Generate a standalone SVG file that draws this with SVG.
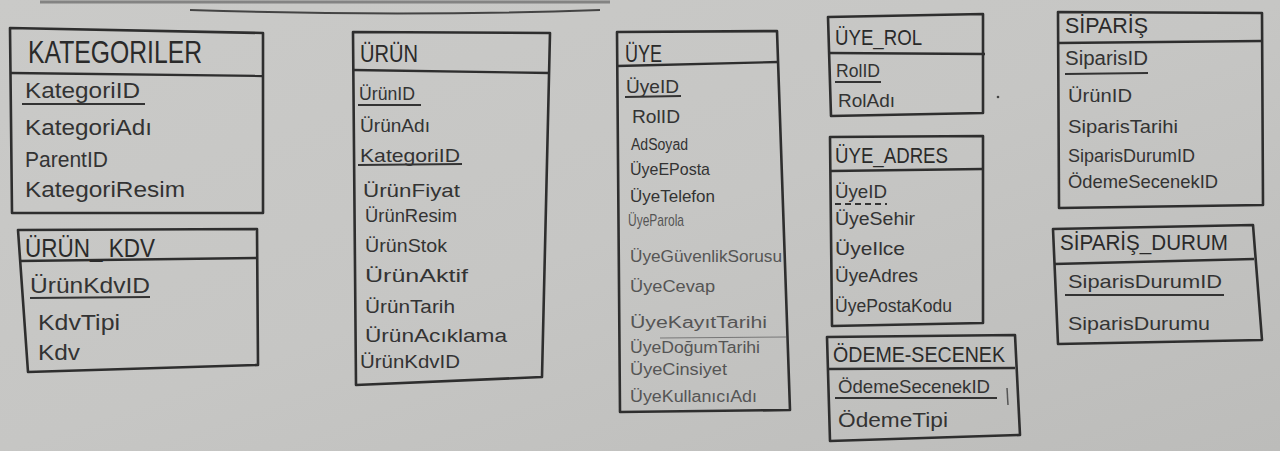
<svg xmlns="http://www.w3.org/2000/svg" width="1280" height="451" viewBox="0 0 1280 451">
<defs>
<linearGradient id="paper" x1="0" y1="0" x2="1" y2="1">
<stop offset="0" stop-color="#cacac8"/>
<stop offset="0.5" stop-color="#c6c6c4"/>
<stop offset="1" stop-color="#bcbcba"/>
</linearGradient>
<style>
.box{fill:none;stroke:#2e2e2e;stroke-width:2.6;stroke-linejoin:round}
.sep{fill:none;stroke:#2e2e2e;stroke-width:2.4}
.ul{fill:none;stroke:#333;stroke-width:2}
.t{font-family:"Liberation Sans",Arial,sans-serif;fill:#2a2a2a}
.f{font-family:"Liberation Sans",Arial,sans-serif;fill:#333}
.lt{fill:#555}
</style>
</defs>
<rect width="1280" height="451" fill="url(#paper)"/>
<path d="M190 10 Q400 17 600 10" fill="none" stroke="#444" stroke-width="2"/>
<path d="M40 2 L610 2" fill="none" stroke="#555" stroke-width="3" opacity="0.6"/>
<g id="connectors"/>

<g id="kategoriler">
<polygon class="box" points="10,28 263,33 263,213 12,213"/>
<line class="sep" x1="11" y1="73" x2="263" y2="76"/>
<text class="t" x="28" y="63" font-size="32" textLength="174" lengthAdjust="spacingAndGlyphs">KATEGORILER</text>
<text class="f" x="25" y="98" font-size="22" textLength="115" lengthAdjust="spacingAndGlyphs">KategoriID</text>
<line class="ul" x1="22" y1="104" x2="145" y2="104"/>
<text class="f" x="25" y="135" font-size="22" textLength="127" lengthAdjust="spacingAndGlyphs">KategoriAdı</text>
<text class="f" x="25" y="167" font-size="22" textLength="83" lengthAdjust="spacingAndGlyphs">ParentID</text>
<text class="f" x="25" y="197" font-size="22" textLength="160" lengthAdjust="spacingAndGlyphs">KategoriResim</text>
</g>

<g id="urun_kdv">
<polygon class="box" points="18,230 257,229 258,365 28,372"/>
<line class="sep" x1="19" y1="261" x2="257" y2="258"/>
<text class="t" x="25" y="257" font-size="25" textLength="130" lengthAdjust="spacingAndGlyphs">ÜRÜN_ KDV</text>
<text class="f" x="30" y="293" font-size="22" textLength="120" lengthAdjust="spacingAndGlyphs">ÜrünKdvID</text>
<line class="ul" x1="30" y1="298" x2="150" y2="297"/>
<text class="f" x="38" y="330" font-size="22" textLength="82" lengthAdjust="spacingAndGlyphs">KdvTipi</text>
<text class="f" x="38" y="360" font-size="22" textLength="42" lengthAdjust="spacingAndGlyphs">Kdv</text>
</g>

<g id="urun">
<polygon class="box" points="353,32 550,33 542,377 356,385"/>
<line class="sep" x1="353" y1="70" x2="550" y2="73"/>
<text class="t" x="360" y="62" font-size="24" textLength="58" lengthAdjust="spacingAndGlyphs">ÜRÜN</text>
<text class="f" x="359" y="100" font-size="19" textLength="56" lengthAdjust="spacingAndGlyphs">ÜrünID</text>
<line class="ul" x1="358" y1="105" x2="421" y2="105"/>
<text class="f" x="360" y="132" font-size="19" textLength="70" lengthAdjust="spacingAndGlyphs">ÜrünAdı</text>
<text class="f" x="360" y="162" font-size="19" textLength="100" lengthAdjust="spacingAndGlyphs">KategoriID</text>
<line class="ul" x1="358" y1="165" x2="462" y2="164"/>
<text class="f" x="363" y="197" font-size="19" textLength="97" lengthAdjust="spacingAndGlyphs">ÜrünFiyat</text>
<text class="f" x="365" y="222" font-size="19" textLength="92" lengthAdjust="spacingAndGlyphs">ÜrünResim</text>
<text class="f" x="365" y="252" font-size="19" textLength="82" lengthAdjust="spacingAndGlyphs">ÜrünStok</text>
<text class="f" x="365" y="282" font-size="19" textLength="103" lengthAdjust="spacingAndGlyphs">ÜrünAktif</text>
<text class="f" x="365" y="313" font-size="19" textLength="90" lengthAdjust="spacingAndGlyphs">ÜrünTarih</text>
<text class="f" x="365" y="342" font-size="19" textLength="142" lengthAdjust="spacingAndGlyphs">ÜrünAcıklama</text>
<text class="f" x="360" y="368" font-size="19" textLength="100" lengthAdjust="spacingAndGlyphs">ÜrünKdvID</text>
</g>

<g id="uye">
<polygon class="box" points="617,32 777,31 790,410 620,412"/>
<line class="sep" x1="617" y1="66" x2="778" y2="62"/>
<text class="t" x="625" y="62" font-size="23" textLength="37" lengthAdjust="spacingAndGlyphs">ÜYE</text>
<text class="f" x="626" y="93" font-size="19" textLength="53" lengthAdjust="spacingAndGlyphs">ÜyeID</text>
<line class="ul" x1="625" y1="97" x2="681" y2="96"/>
<text class="f" x="632" y="123" font-size="19" textLength="48" lengthAdjust="spacingAndGlyphs">RolID</text>
<text class="f" x="631" y="150" font-size="16" textLength="57" lengthAdjust="spacingAndGlyphs">AdSoyad</text>
<text class="f" x="630" y="175" font-size="17" textLength="80" lengthAdjust="spacingAndGlyphs">ÜyeEPosta</text>
<text class="f" x="630" y="202" font-size="17" textLength="85" lengthAdjust="spacingAndGlyphs">ÜyeTelefon</text>
<text class="f lt" x="628" y="226" font-size="17" textLength="56" lengthAdjust="spacingAndGlyphs">ÜyeParola</text>
<text class="f lt" x="630" y="262" font-size="16" textLength="152" lengthAdjust="spacingAndGlyphs">ÜyeGüvenlikSorusu</text>
<text class="f lt" x="630" y="292" font-size="16" textLength="85" lengthAdjust="spacingAndGlyphs">ÜyeCevap</text>
<text class="f lt" x="630" y="328" font-size="16" textLength="137" lengthAdjust="spacingAndGlyphs">ÜyeKayıtTarihi</text>
<line x1="660" y1="338" x2="786" y2="337" stroke="#777" stroke-width="1"/>
<text class="f lt" x="630" y="353" font-size="16" textLength="130" lengthAdjust="spacingAndGlyphs">ÜyeDoğumTarihi</text>
<text class="f lt" x="630" y="375" font-size="16" textLength="97" lengthAdjust="spacingAndGlyphs">ÜyeCinsiyet</text>
<text class="f lt" x="630" y="402" font-size="16" textLength="127" lengthAdjust="spacingAndGlyphs">ÜyeKullanıcıAdı</text>
</g>

<g id="uye_rol">
<polygon class="box" points="828,17 983,14 983,113 831,116"/>
<line class="sep" x1="828" y1="53" x2="985" y2="54"/>
<text class="t" x="835" y="45" font-size="22" textLength="87" lengthAdjust="spacingAndGlyphs">ÜYE_ROL</text>
<text class="f" x="836" y="77" font-size="18" textLength="44" lengthAdjust="spacingAndGlyphs">RolID</text>
<line class="ul" x1="835" y1="82" x2="881" y2="82"/>
<text class="f" x="838" y="107" font-size="18" textLength="57" lengthAdjust="spacingAndGlyphs">RolAdı</text>
<circle cx="998" cy="97" r="1.3" fill="#444"/>
</g>

<g id="uye_adres">
<polygon class="box" points="830,137 983,136 983,323 832,326"/>
<line class="sep" x1="831" y1="171" x2="983" y2="169"/>
<text class="t" x="835" y="163" font-size="22" textLength="113" lengthAdjust="spacingAndGlyphs">ÜYE_ADRES</text>
<text class="f" x="835" y="198" font-size="19" textLength="52" lengthAdjust="spacingAndGlyphs">ÜyeID</text>
<line class="ul" x1="835" y1="204" x2="887" y2="204" stroke-dasharray="6,4"/>
<text class="f" x="835" y="225" font-size="18" textLength="80" lengthAdjust="spacingAndGlyphs">ÜyeSehir</text>
<text class="f" x="835" y="255" font-size="18" textLength="70" lengthAdjust="spacingAndGlyphs">ÜyeIlce</text>
<text class="f" x="835" y="282" font-size="18" textLength="83" lengthAdjust="spacingAndGlyphs">ÜyeAdres</text>
<text class="f" x="835" y="312" font-size="18" textLength="117" lengthAdjust="spacingAndGlyphs">ÜyePostaKodu</text>
</g>

<g id="odeme_secenek">
<polygon class="box" points="827,337 1015,335 1020,435 830,441"/>
<line class="sep" x1="828" y1="369" x2="1015" y2="368"/>
<text class="t" x="833" y="362" font-size="22" textLength="172" lengthAdjust="spacingAndGlyphs">ÖDEME-SECENEK</text>
<text class="f" x="838" y="393" font-size="19" textLength="152" lengthAdjust="spacingAndGlyphs">ÖdemeSecenekID</text>
<line class="ul" x1="835" y1="398" x2="997" y2="398"/>
<line x1="1007" y1="388" x2="1008" y2="405" stroke="#555" stroke-width="1.5"/>
<text class="f" x="838" y="427" font-size="20" textLength="110" lengthAdjust="spacingAndGlyphs">ÖdemeTipi</text>
</g>

<g id="siparis">
<polygon class="box" points="1058,12 1262,13 1263,205 1059,208"/>
<line class="sep" x1="1058" y1="43" x2="1262" y2="41"/>
<text class="t" x="1065" y="33" font-size="22" textLength="83" lengthAdjust="spacingAndGlyphs">SİPARİŞ</text>
<text class="f" x="1065" y="65" font-size="20" textLength="83" lengthAdjust="spacingAndGlyphs">SiparisID</text>
<line class="ul" x1="1065" y1="74" x2="1148" y2="73"/>
<text class="f" x="1068" y="102" font-size="19" textLength="64" lengthAdjust="spacingAndGlyphs">ÜrünID</text>
<text class="f" x="1068" y="133" font-size="19" textLength="110" lengthAdjust="spacingAndGlyphs">SiparisTarihi</text>
<text class="f" x="1068" y="162" font-size="19" textLength="127" lengthAdjust="spacingAndGlyphs">SiparisDurumID</text>
<text class="f" x="1068" y="188" font-size="19" textLength="150" lengthAdjust="spacingAndGlyphs">ÖdemeSecenekID</text>
</g>

<g id="siparis_durum">
<polygon class="box" points="1053,229 1253,225 1262,340 1058,344"/>
<line class="sep" x1="1054" y1="264" x2="1254" y2="259"/>
<text class="t" x="1060" y="250" font-size="22" textLength="168" lengthAdjust="spacingAndGlyphs">SİPARİŞ_DURUM</text>
<text class="f" x="1068" y="288" font-size="19" textLength="154" lengthAdjust="spacingAndGlyphs">SiparisDurumID</text>
<line class="ul" x1="1065" y1="295" x2="1224" y2="295"/>
<text class="f" x="1068" y="330" font-size="19" textLength="142" lengthAdjust="spacingAndGlyphs">SiparisDurumu</text>
</g>
</svg>
